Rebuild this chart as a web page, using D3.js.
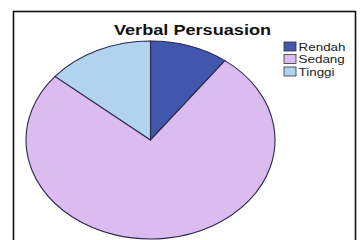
<!DOCTYPE html>
<html>
<head>
<meta charset="utf-8">
<script src="https://cdn.jsdelivr.net/npm/d3@7"></script>
<style>
  body { margin: 0; background: #fff; }
</style>
</head>
<body>
<figure id="pie" style="margin:0"></figure>
<script>
const categories = ["Rendah", "Sedang", "Tinggi"];
const values = [10.2, 75.9, 13.9];
const colors = ["#4157ae", "#dcbcf0", "#b2d3ee"];
const title = "Verbal Persuasion";

const width = 362, height = 240;

const svg = d3.select("figure#pie")
  .append("svg")
  .attr("width", width)
  .attr("height", height);

// frame
svg.append("rect")
  .attr("x", 13.5).attr("y", 11.5)
  .attr("width", 342).attr("height", 240)
  .attr("fill", "#fff")
  .attr("stroke", "#111")
  .attr("stroke-width", 1.6);

// title (the source image is stretched sideways)
svg.append("text")
  .attr("transform", "translate(192.5,35) scale(1.25,1)")
  .attr("text-anchor", "middle")
  .attr("font-family", "Liberation Sans, Arial, sans-serif")
  .attr("font-weight", "bold")
  .attr("font-size", 14.5)
  .attr("fill", "#111")
  .text(title);

// pie: drawn as a circle then squashed into an ellipse
const rx = 124.5, ry = 99;
const pie = d3.pie().sort(null).value(d => d)(values);
const arc = d3.arc().innerRadius(0).outerRadius(ry);

svg.append("g")
  .attr("transform", `translate(150.5,140) scale(${rx / ry},1)`)
  .selectAll("path")
  .data(pie)
  .enter()
  .append("path")
  .attr("d", arc)
  .attr("fill", (d, i) => colors[i])
  .attr("stroke", "#2a2a4a")
  .attr("stroke-width", 1.1)
  .attr("vector-effect", "non-scaling-stroke");

// legend
const legend = svg.append("g")
  .attr("transform", "translate(284,42)");

const rows = legend.selectAll("g")
  .data(categories)
  .enter()
  .append("g")
  .attr("transform", (d, i) => `translate(0,${i * 12.5})`);

rows.append("rect")
  .attr("width", 12).attr("height", 9)
  .attr("fill", (d, i) => colors[i])
  .attr("stroke", "#333")
  .attr("stroke-width", 0.8);

rows.append("text")
  .attr("transform", "translate(14.5,8.5) scale(1.28,1)")
  .attr("font-family", "Liberation Sans, Arial, sans-serif")
  .attr("font-size", 10.5)
  .attr("fill", "#222")
  .text(d => d);
</script>
</body>
</html>
